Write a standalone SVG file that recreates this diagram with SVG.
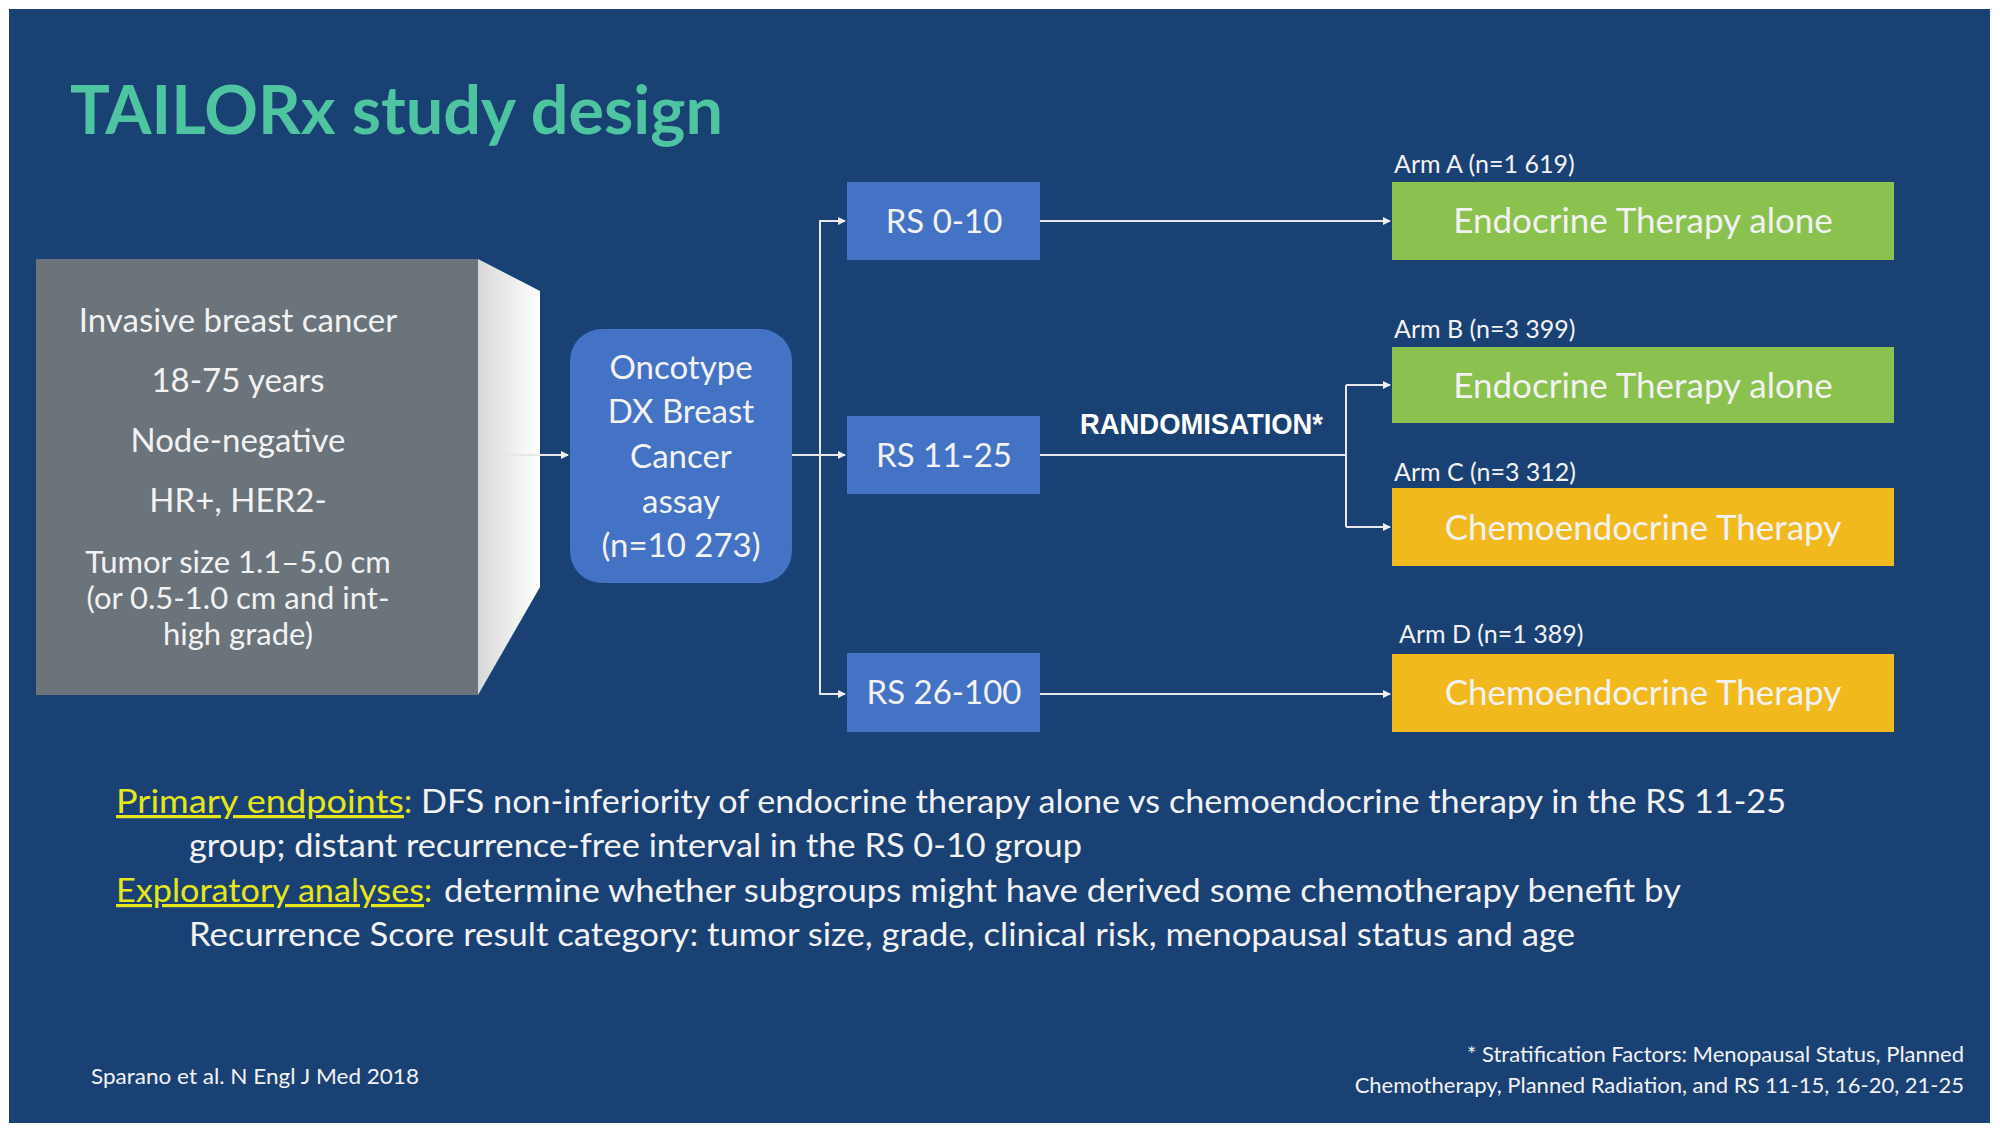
<svg xmlns="http://www.w3.org/2000/svg" width="2000" height="1133" viewBox="0 0 2000 1133">
<style>
text{font-family:Lato,"Open Sans","Liberation Sans",sans-serif;fill:#f2f2f2}
.c{text-anchor:middle}
.w{font-size:33px}
.t{font-size:31px}
.arm{font-size:25px}
.box{font-size:35px}
.ln{stroke:#e8e8e8;stroke-width:2;fill:none}
.y{fill:#e6e619;text-decoration:underline}
.body{font-size:32px}
</style>
<defs>
<marker id="ah" markerWidth="8" markerHeight="8" refX="7" refY="4" orient="auto" markerUnits="userSpaceOnUse"><path d="M0,0 L8,4 L0,8 Z" fill="#f0f0f0"/></marker>
<linearGradient id="bev" x1="0" x2="1" y1="0" y2="0"><stop offset="0" stop-color="#d8d8d8"/><stop offset="1" stop-color="#ffffff"/></linearGradient>
</defs>
<rect x="0" y="0" width="2000" height="1133" fill="#ffffff"/>
<rect x="9" y="9" width="1981" height="1114" fill="#1a4174"/>
<text x="70" y="134" font-size="66" font-weight="bold" textLength="653" lengthAdjust="spacingAndGlyphs" style="fill:#4fc4a0">TAILORx study design</text>

<g id="population">
<rect x="36" y="259" width="442" height="436" fill="#6b737b"/>
<polygon points="478,259 540,291 540,587 478,695" fill="url(#bev)"/>
<text class="c w" x="238" y="332">Invasive breast cancer</text>
<text class="c w" x="238" y="392">18-75 years</text>
<text class="c w" x="238" y="452">Node-negative</text>
<text class="c w" x="238" y="512">HR+, HER2-</text>
<text class="c t" x="238" y="573">Tumor size 1.1–5.0 cm</text>
<text class="c t" x="238" y="609">(or 0.5-1.0 cm and int-</text>
<text class="c t" x="238" y="645">high grade)</text>
</g>
<g id="oncotype">
<rect x="570" y="329" width="222" height="254" rx="32" fill="#4472c4"/>
<text class="c w" x="681" y="379">Oncotype</text>
<text class="c w" x="681" y="423">DX Breast</text>
<text class="c w" x="681" y="468">Cancer</text>
<text class="c w" x="681" y="513">assay</text>
<text class="c w" x="681" y="557">(n=10 273)</text>
</g>
<g id="rs1"><rect x="847" y="182" width="193" height="78" fill="#4472c4"/><text class="c w" x="944" y="233">RS 0-10</text></g>
<g id="rs2"><rect x="847" y="416" width="193" height="78" fill="#4472c4"/><text class="c w" x="944" y="467">RS 11-25</text></g>
<g id="rs3"><rect x="847" y="653" width="193" height="79" fill="#4472c4"/><text class="c w" x="944" y="704">RS 26-100</text></g>

<g id="armA"><text class="arm" x="1394" y="173">Arm A (n=1 619)</text><rect x="1392" y="182" width="502" height="78" fill="#8bc14f"/><text class="c box" x="1643" y="233">Endocrine Therapy alone</text></g>
<g id="armB"><text class="arm" x="1394" y="338">Arm B (n=3 399)</text><rect x="1392" y="347" width="502" height="76" fill="#8bc14f"/><text class="c box" x="1643" y="398">Endocrine Therapy alone</text></g>
<g id="armC"><text class="arm" x="1394" y="481">Arm C (n=3 312)</text><rect x="1392" y="488" width="502" height="78" fill="#f2b91e"/><text class="c box" x="1643" y="540">Chemoendocrine Therapy</text></g>
<g id="armD"><text class="arm" x="1399" y="643">Arm D (n=1 389)</text><rect x="1392" y="654" width="502" height="78" fill="#f2b91e"/><text class="c box" x="1643" y="705">Chemoendocrine Therapy</text></g>

<g id="connectors">
<line class="ln" x1="504" y1="455" x2="568" y2="455" marker-end="url(#ah)"/>
<line class="ln" x1="792" y1="455" x2="845" y2="455" marker-end="url(#ah)"/>
<path class="ln" d="M845,221 H820 V694 H845" />
<line class="ln" x1="820" y1="221" x2="845" y2="221" marker-end="url(#ah)"/>
<line class="ln" x1="820" y1="694" x2="845" y2="694" marker-end="url(#ah)"/>
<line class="ln" x1="1040" y1="221" x2="1390" y2="221" marker-end="url(#ah)"/>
<line class="ln" x1="1040" y1="694" x2="1390" y2="694" marker-end="url(#ah)"/>
<path class="ln" d="M1040,455 H1346 M1346,385 V527"/>
<line class="ln" x1="1346" y1="385" x2="1390" y2="385" marker-end="url(#ah)"/>
<line class="ln" x1="1346" y1="527" x2="1390" y2="527" marker-end="url(#ah)"/>
<text x="1080" y="434" font-size="30" font-weight="bold" textLength="243" lengthAdjust="spacingAndGlyphs" style="font-family:'Liberation Sans',Arial,sans-serif;fill:#ffffff">RANDOMISATION*</text>
</g>

<text class="body y" x="116" y="813" textLength="288" lengthAdjust="spacingAndGlyphs">Primary endpoints</text>
<text class="body" x="404" y="813" style="fill:#e6e619">:</text>
<text class="body" x="421" y="813" textLength="1365" lengthAdjust="spacingAndGlyphs">DFS non-inferiority of endocrine therapy alone vs chemoendocrine therapy in the RS 11-25</text>
<text class="body" x="189" y="857" textLength="893" lengthAdjust="spacingAndGlyphs">group; distant recurrence-free interval in the RS 0-10 group</text>
<text class="body y" x="116" y="902" textLength="308" lengthAdjust="spacingAndGlyphs">Exploratory analyses</text>
<text class="body" x="424" y="902" style="fill:#e6e619">:</text>
<text class="body" x="444" y="902" textLength="1237" lengthAdjust="spacingAndGlyphs">determine whether subgroups might have derived some chemotherapy benefit by</text>
<text class="body" x="189" y="946" textLength="1386" lengthAdjust="spacingAndGlyphs">Recurrence Score result category: tumor size, grade, clinical risk, menopausal status and age</text>

<text x="91" y="1084" font-size="22" textLength="328" lengthAdjust="spacingAndGlyphs">Sparano et al. N Engl J Med 2018</text>
<text x="1964" y="1062" font-size="22" text-anchor="end">* Stratification Factors: Menopausal Status, Planned</text>
<text x="1964" y="1093" font-size="22" text-anchor="end">Chemotherapy, Planned Radiation, and RS 11-15, 16-20, 21-25</text>
</svg>
